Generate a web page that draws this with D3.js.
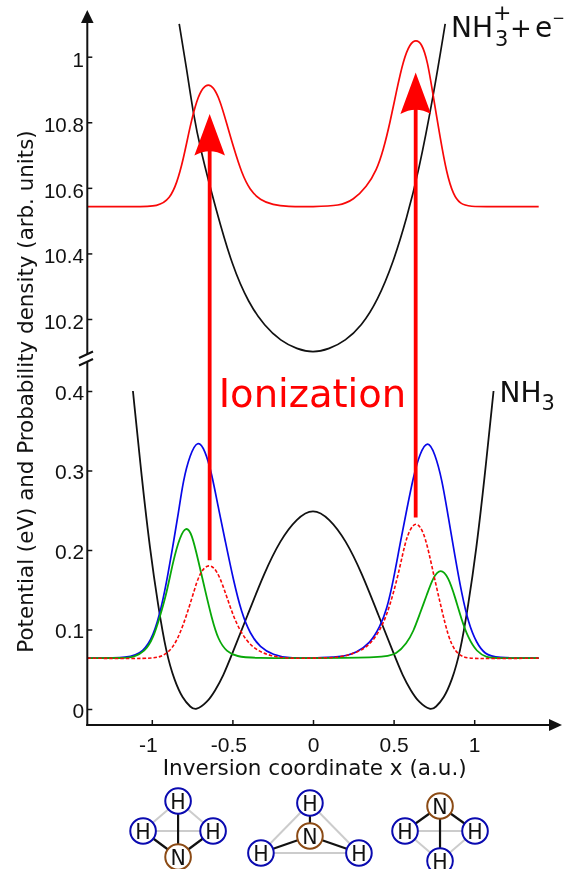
<!DOCTYPE html>
<html>
<head>
<meta charset="utf-8">
<script src="https://cdn.jsdelivr.net/npm/d3@7"></script>
<style>
  html, body { margin: 0; padding: 0; background: #fff; }
  svg { display: block; filter: blur(0.35px); }
  text { font-family: "DejaVu Sans", sans-serif; fill: #111; }
</style>
</head>
<body>
<svg id="chart" width="571" height="869"></svg>
<script>
// Values
const upperTicks = [10.2, 10.4, 10.6, 10.8, 11];
const upperTickLabels = ["10.2", "10.4", "10.6", "10.8", "1"];
const lowerTicks = [0, 0.1, 0.2, 0.3, 0.4];
const xTicks = [-1, -0.5, 0, 0.5, 1];

// NH3 double well
const wellX = [-1.117, -1.062, -1.011, -0.961, -0.91, -0.86, -0.809, -0.758, -0.728, -0.657, -0.607, -0.556, -0.506, -0.404, -0.303, -0.202, -0.101, 0,
  0.101, 0.202, 0.303, 0.404, 0.506, 0.556, 0.607, 0.657, 0.73, 0.76, 0.811, 0.862, 0.912, 0.963, 1.013, 1.064, 1.12];
const wellV = [0.4, 0.29, 0.2, 0.13, 0.07, 0.036, 0.013, 0.002, -0.002, 0.008, 0.023, 0.042, 0.067, 0.119, 0.171, 0.213, 0.24, 0.253,
  0.24, 0.213, 0.171, 0.119, 0.067, 0.042, 0.023, 0.008, -0.002, 0.002, 0.013, 0.036, 0.07, 0.13, 0.2, 0.29, 0.4];

// NH3+ well
const ionX = [-0.83, -0.783, -0.743, -0.7, -0.6, -0.5, -0.4, -0.3, -0.2, -0.1, 0, 0.1, 0.2, 0.3, 0.4, 0.5, 0.581, 0.653, 0.746, 0.82];
const ionV = [11.1, 10.96, 10.828, 10.72, 10.53, 10.36, 10.249, 10.178, 10.133, 10.108, 10.097,
  10.108, 10.133, 10.178, 10.255, 10.375, 10.507, 10.644, 10.878, 11.1];

// Red packet on the NH3+ well
const redX = [-1.4, -1.1, -0.96, -0.887, -0.845, -0.805, -0.763, -0.722, -0.681, -0.649, -0.619, -0.577, -0.536, -0.494, -0.442, -0.391, -0.329, -0.248, -0.162, 0,
  0.168, 0.25, 0.333, 0.395, 0.436, 0.477, 0.519, 0.56, 0.602, 0.639, 0.674, 0.71, 0.747, 0.788, 0.829, 0.871, 0.912, 0.974, 1.1, 1.4];
const redV = [10.5425, 10.5425, 10.5425, 10.568, 10.614, 10.685, 10.787, 10.868, 10.908, 10.916, 10.908, 10.868, 10.797, 10.725, 10.644, 10.593, 10.563, 10.548, 10.5425, 10.5425,
  10.545, 10.563, 10.603, 10.654, 10.715, 10.797, 10.898, 10.989, 11.041, 11.052, 11.041, 10.989, 10.877, 10.755, 10.644, 10.578, 10.551, 10.5425, 10.5425, 10.5425];

// Blue packet
const blueX = [-1.4, -1.136, -1.053, -0.991, -0.938, -0.898, -0.867, -0.835, -0.805, -0.763, -0.715, -0.67, -0.628, -0.588, -0.546, -0.494, -0.442, -0.391, -0.329, -0.247, -0.155, 0,
  0.168, 0.271, 0.354, 0.416, 0.457, 0.499, 0.54, 0.581, 0.622, 0.663, 0.712, 0.756, 0.799, 0.839, 0.881, 0.922, 0.964, 1.015, 1.067, 1.13, 1.4];
const blueV = [0.064, 0.064, 0.072, 0.091, 0.129, 0.171, 0.208, 0.246, 0.288, 0.32, 0.339, 0.326, 0.296, 0.254, 0.213, 0.162, 0.12, 0.095, 0.0775, 0.068, 0.064, 0.064,
  0.065, 0.0708, 0.0826, 0.1035, 0.1245, 0.162, 0.208, 0.25, 0.292, 0.322, 0.339, 0.3216, 0.29, 0.242, 0.1916, 0.1455, 0.108, 0.0826, 0.069, 0.064, 0.064];

// Green packet
const greenX = [-1.4, -1.179, -1.114, -1.043, -0.991, -0.95, -0.908, -0.867, -0.825, -0.788, -0.752, -0.712, -0.67, -0.628, -0.588, -0.536, -0.473, -0.372, 0,
  0.436, 0.519, 0.581, 0.622, 0.663, 0.706, 0.746, 0.792, 0.839, 0.881, 0.922, 0.964, 1.015, 1.078, 1.142, 1.4];
const greenV = [0.064, 0.064, 0.065, 0.072, 0.089, 0.116, 0.1455, 0.187, 0.217, 0.23, 0.221, 0.187, 0.15, 0.114, 0.087, 0.072, 0.066, 0.064, 0.064,
  0.0645, 0.069, 0.0826, 0.097, 0.12, 0.1434, 0.1664, 0.177, 0.1664, 0.141, 0.112, 0.089, 0.072, 0.0645, 0.064, 0.064];

// Dashed red packet
const dashedX = [-1.4, -1.011, -0.928, -0.867, -0.825, -0.784, -0.742, -0.701, -0.645, -0.598, -0.556, -0.515, -0.473, -0.412, -0.349, -0.267, -0.155, 0,
  0.168, 0.271, 0.354, 0.416, 0.457, 0.499, 0.54, 0.57, 0.602, 0.643, 0.685, 0.716, 0.756, 0.799, 0.839, 0.881, 0.932, 0.993, 1.4];
const dashedV = [0.064, 0.063, 0.066, 0.0775, 0.095, 0.118, 0.1455, 0.173, 0.183, 0.175, 0.154, 0.129, 0.106, 0.085, 0.074, 0.0667, 0.0635, 0.064,
  0.0645, 0.0708, 0.0805, 0.0994, 0.118, 0.1455, 0.179, 0.208, 0.227, 0.236, 0.223, 0.2, 0.162, 0.1245, 0.091, 0.072, 0.065, 0.063, 0.064];

// ionization arrows: x, start on lower scale, tip on upper scale
const arrowX = [-0.641, 0.637];
const arrowFrom = [0.187, 0.241];
const arrowTo = [10.825, 10.952];

// the three ammonia geometries under the axis
const moleculeX = [-0.837, -0.019, 0.788];
const moleculeLevel = [827, 836, 830];
const atomLabels = ["H", "H", "H", "N"];

const svg = d3.select("#chart");

const xScale = d3.scaleLinear().domain([-1, 1]).range([151.8, 474.2]);
const upperY = d3.scaleLinear().domain([10.2, 11]).range([319, 56.7]);
const lowerY = d3.scaleLinear().domain([0, 0.4]).range([709, 391]);

const axisX = 87.3;
const axisBottom = 725;

function drawCurve(xs, ys, yScale, color, width, dash) {
  const line = d3.line()
    .x(d => xScale(d))
    .y((d, i) => yScale(ys[i]))
    .curve(d3.curveBasis);
  svg.append("path")
    .attr("d", line(xs))
    .attr("fill", "none")
    .attr("stroke", color)
    .attr("stroke-width", width)
    .attr("stroke-dasharray", dash || null);
}

// Curves
drawCurve(ionX, ionV, upperY, "#111", 1.7);
drawCurve(wellX, wellV, lowerY, "#111", 1.8);
drawCurve(blueX, blueV, lowerY, "#0808e8", 1.7);
drawCurve(greenX, greenV, lowerY, "#08a808", 1.8);
drawCurve(dashedX, dashedV, lowerY, "#f80808", 1.6, "3.5,2");
drawCurve(redX, redV, upperY, "#f80808", 1.7);

// Arrows
arrowX.forEach((d, i) => {
  const px = xScale(d);
  const tip = upperY(arrowTo[i]);
  svg.append("line")
    .attr("x1", px).attr("x2", px)
    .attr("y1", lowerY(arrowFrom[i])).attr("y2", tip + 30)
    .attr("stroke", "#ff0000")
    .attr("stroke-width", 3.8);
  svg.append("path")
    .attr("d", `M${px},${tip} L${px + 15.3},${tip + 41.5} Q${px},${tip + 33} ${px - 15.3},${tip + 41.5} Z`)
    .attr("fill", "#ff0000");
});

svg.append("text")
  .attr("x", 312.5)
  .attr("y", 407)
  .attr("text-anchor", "middle")
  .style("font-size", "38.5px")
  .style("fill", "#ff0000")
  .text("Ionization");

// Axes, ticks point inwards
const yAxisUpper = d3.axisLeft(upperY)
  .tickValues(upperTicks)
  .tickFormat((d, i) => upperTickLabels[i])
  .tickSize(-5)
  .tickSizeOuter(0)
  .tickPadding(3.5);
const yAxisLower = d3.axisLeft(lowerY)
  .tickValues(lowerTicks)
  .tickFormat(d => d === 0 ? "0" : d3.format(".1f")(d))
  .tickSize(-5)
  .tickSizeOuter(0)
  .tickPadding(3);
const xAxis = d3.axisBottom(xScale)
  .tickValues(xTicks)
  .tickFormat(d => d)
  .tickSize(-5)
  .tickSizeOuter(0)
  .tickPadding(12);

const gUpper = svg.append("g").attr("transform", `translate(${axisX},0)`).call(yAxisUpper);
const gLower = svg.append("g").attr("transform", `translate(${axisX},0)`).call(yAxisLower);
const gX = svg.append("g").attr("transform", `translate(0,${axisBottom})`).call(xAxis);

[gUpper, gLower, gX].forEach(g => {
  g.select(".domain").remove();
  g.selectAll("line").attr("stroke", "#111").attr("stroke-width", 1.5);
  g.selectAll("text").style("font-family", '"Liberation Sans", sans-serif');
});
gUpper.selectAll("text").style("font-size", "20.5px").attr("y", 3);
gLower.selectAll("text").style("font-size", "21px").attr("y", 1.5);
gX.selectAll("text").style("font-size", "21px")
  .attr("x", d => d < 0 ? -4 : 0);

// Axis lines with the break and the arrow heads
const axisLines = [
  [axisX, 20, axisX, 354],
  [axisX, 362, axisX, axisBottom + 1],
  [axisX - 1, axisBottom, 552, axisBottom],
  [79, 358, 93, 351.5],
  [79, 365.5, 93, 359]
];
svg.selectAll(".axis-line")
  .data(axisLines)
  .enter()
  .append("line")
  .attr("class", "axis-line")
  .attr("x1", d => d[0]).attr("y1", d => d[1])
  .attr("x2", d => d[2]).attr("y2", d => d[3])
  .attr("stroke", "#111")
  .attr("stroke-width", 2);

svg.append("path").attr("d", `M${axisX},10 L${axisX + 6.3},23 L${axisX - 6.3},23 Z`).attr("fill", "#111");
svg.append("path").attr("d", `M562,${axisBottom} L549,${axisBottom + 6} L549,${axisBottom - 6} Z`).attr("fill", "#111");

// Axis titles
svg.append("text")
  .attr("x", 314.7)
  .attr("y", 775)
  .attr("text-anchor", "middle")
  .style("font-size", "21.5px")
  .text("Inversion coordinate x (a.u.)");

svg.append("text")
  .attr("transform", "translate(33,391.5) rotate(-90)")
  .attr("text-anchor", "middle")
  .style("font-size", "21.4px")
  .text("Potential (eV) and Probability density (arb. units)");

// Curve labels, the sub and superscripts are placed one by one
const ionLabelParts = [
  { text: "NH", x: 451, y: 36.7, size: 28 },
  { text: "3", x: 495, y: 46, size: 21 },
  { text: "+", x: 493, y: 20, size: 22 },
  { text: "+", x: 510, y: 36.7, size: 26 },
  { text: "e", x: 535, y: 36.7, size: 28 },
  { text: "−", x: 552.3, y: 22.5, size: 15 }
];
svg.selectAll(".ion-label")
  .data(ionLabelParts)
  .enter()
  .append("text")
  .attr("class", "ion-label")
  .attr("x", d => d.x)
  .attr("y", d => d.y)
  .style("font-size", d => d.size + "px")
  .text(d => d.text);

const wellLabel = svg.append("text").attr("x", 499.5).attr("y", 402).style("font-size", "28px");
wellLabel.append("tspan").text("NH");
wellLabel.append("tspan").attr("dy", 8).style("font-size", "21px").text("3");

// Molecules, offsets from each centre in px: three H and then the N
const moleculeOffsets = [
  [[0, -26], [-35, 4], [35, 4], [0, 30]],
  [[0, -33], [-49, 17], [49, 17], [0, 0]],
  [[0, 31], [-35, 1], [35, 1], [0, -24]]
];

moleculeX.forEach((mx, m) => {
  const g = svg.append("g")
    .attr("transform", `translate(${xScale(mx)},${moleculeLevel[m]})`);
  const atoms = moleculeOffsets[m];
  const n = atoms[3];
  [[0, 1], [1, 2], [2, 0]].forEach(p => {
    g.append("line")
      .attr("x1", atoms[p[0]][0]).attr("y1", atoms[p[0]][1])
      .attr("x2", atoms[p[1]][0]).attr("y2", atoms[p[1]][1])
      .attr("stroke", "#ccc").attr("stroke-width", 2);
  });
  atoms.slice(0, 3).forEach(a => {
    g.append("line")
      .attr("x1", n[0]).attr("y1", n[1])
      .attr("x2", a[0]).attr("y2", a[1])
      .attr("stroke", "#111").attr("stroke-width", 2.2);
  });
  atoms.forEach((a, i) => {
    g.append("circle")
      .attr("cx", a[0]).attr("cy", a[1]).attr("r", 12.8)
      .attr("fill", "#fff")
      .attr("stroke", atomLabels[i] === "N" ? "#8b4a14" : "#0a0ab0")
      .attr("stroke-width", 2);
    g.append("text")
      .attr("x", a[0]).attr("y", a[1] + 7.5)
      .attr("text-anchor", "middle")
      .style("font-size", "20.5px")
      .text(atomLabels[i]);
  });
});
</script>
</body>
</html>
